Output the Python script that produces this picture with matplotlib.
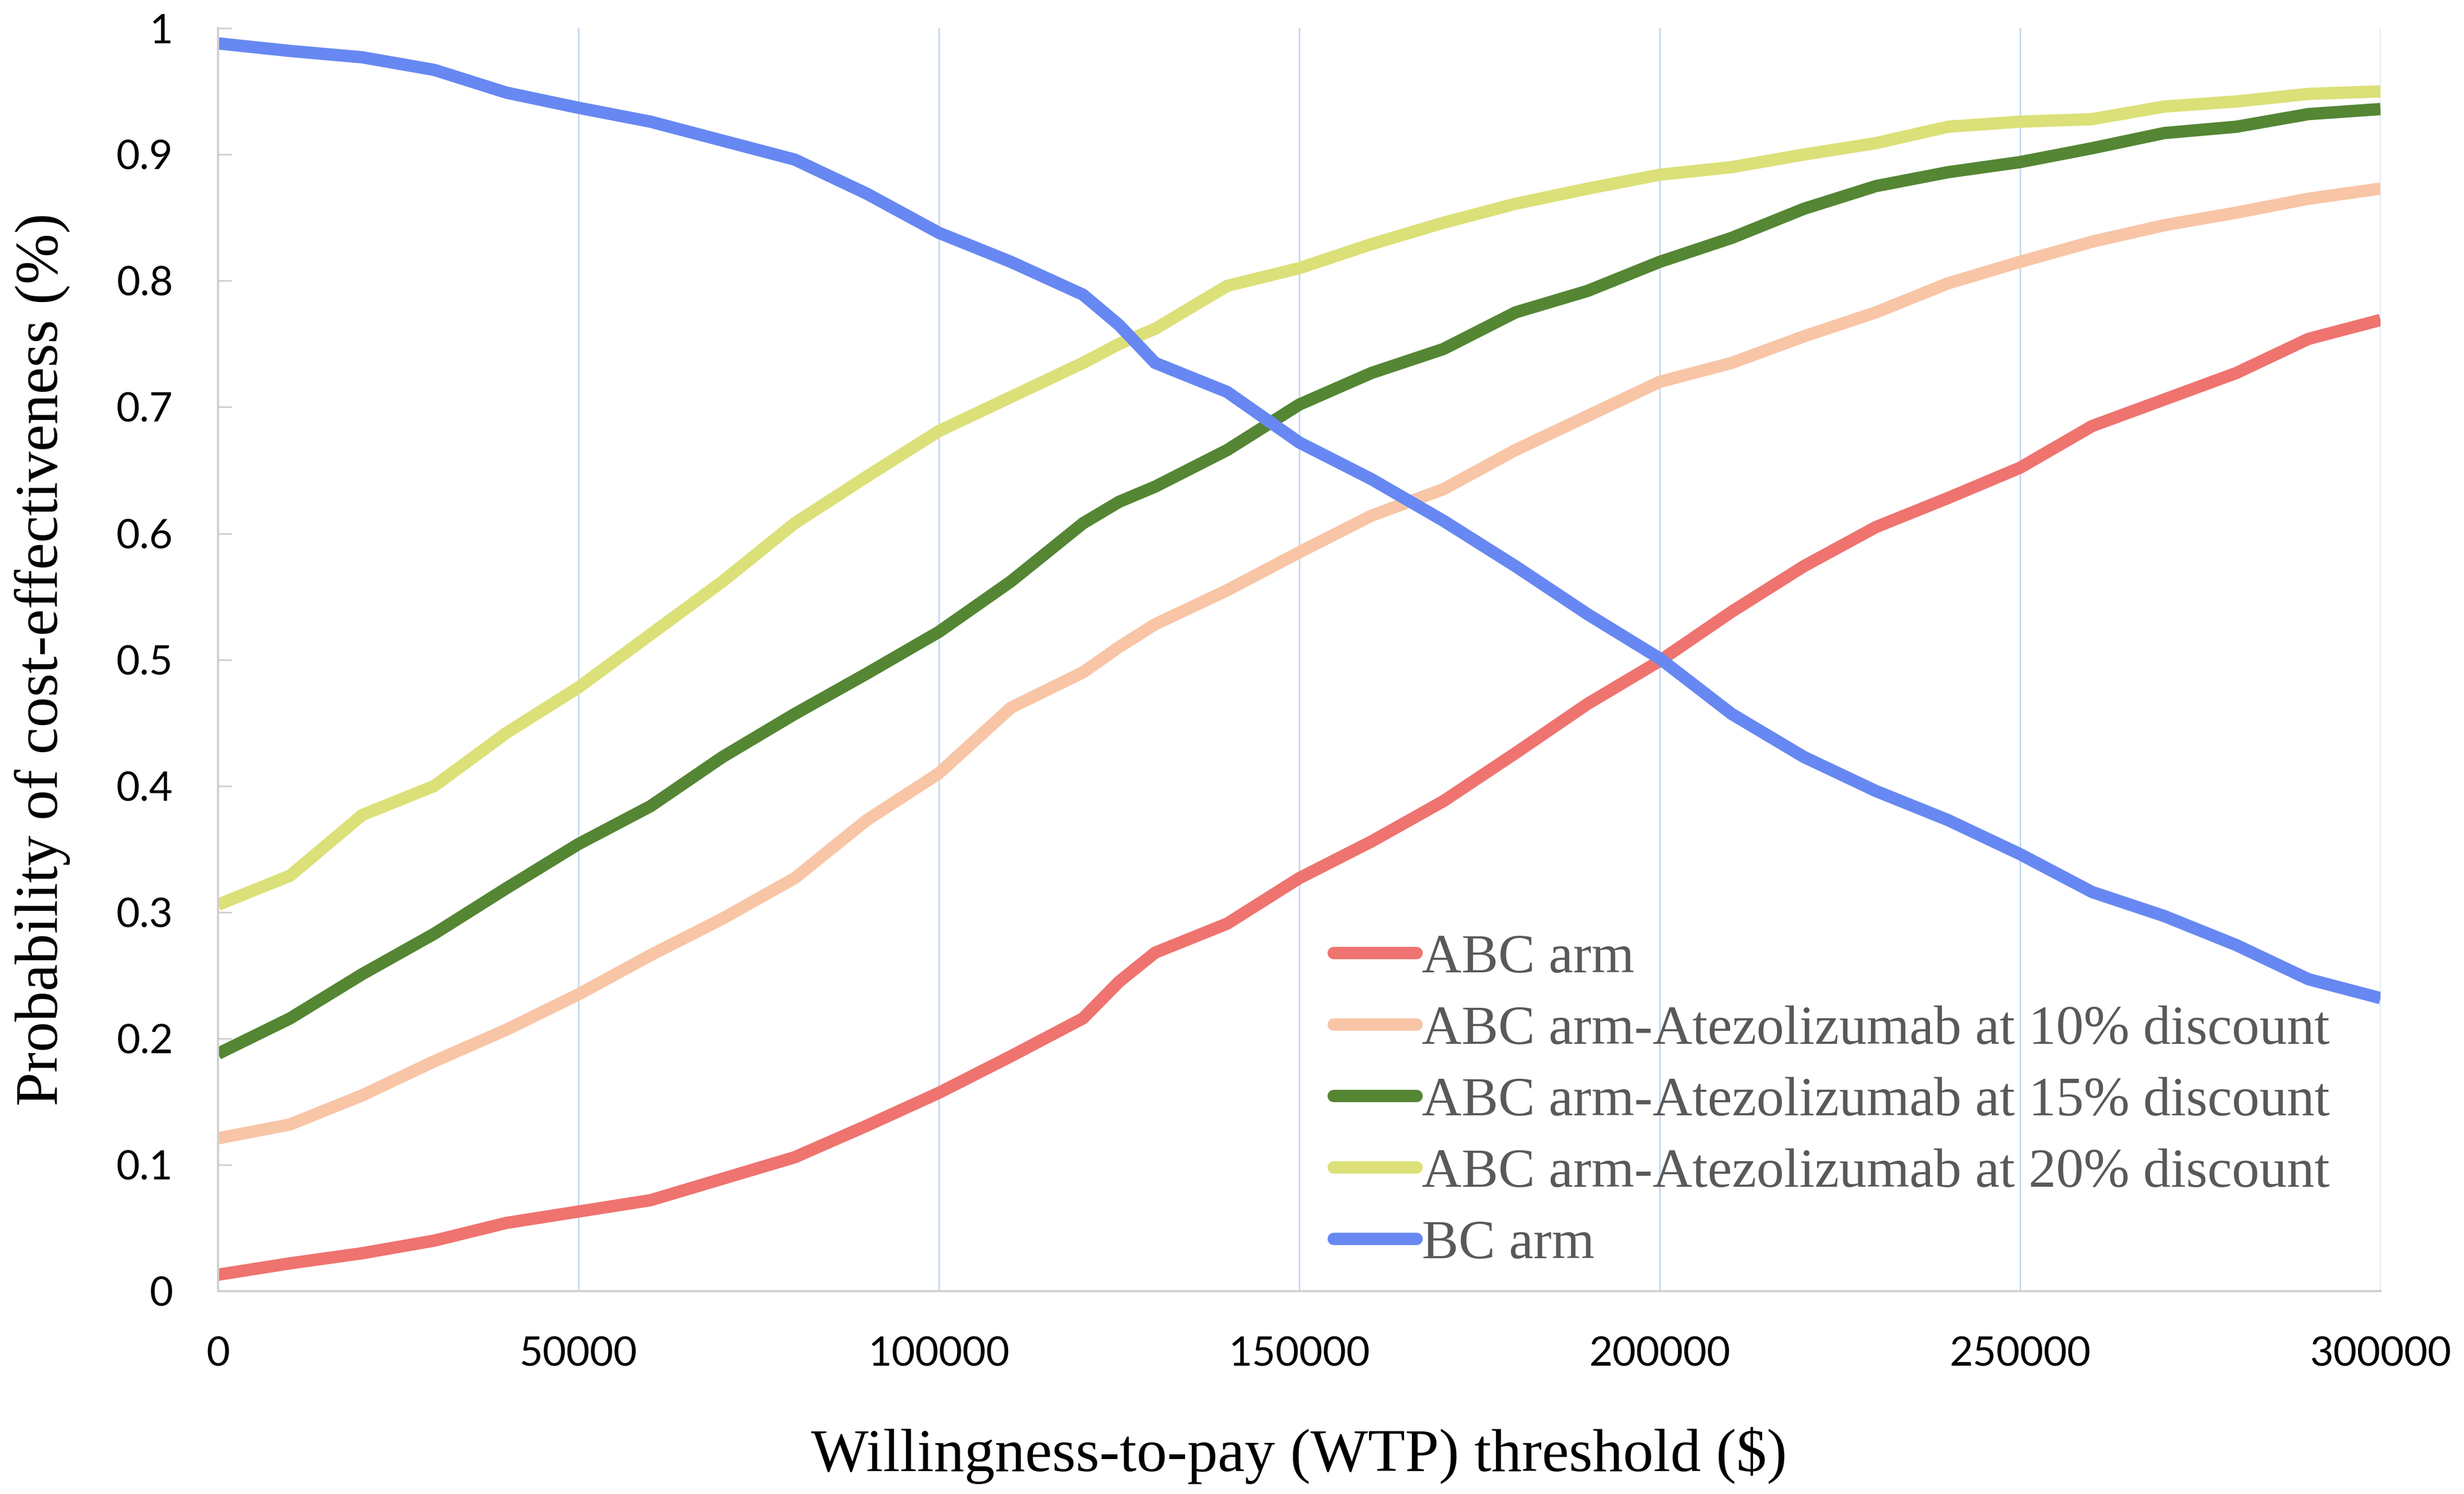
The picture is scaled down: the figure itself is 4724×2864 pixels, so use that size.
import matplotlib
matplotlib.use("Agg")
import matplotlib.pyplot as plt

# willingness-to-pay thresholds ($)
wtp = [0, 10000, 20000, 30000, 40000, 50000, 60000, 70000, 80000, 90000,
       100000, 110000, 120000, 125000, 130000, 140000, 150000, 160000, 170000,
       180000, 190000, 200000, 210000, 220000, 230000, 240000, 250000, 260000,
       270000, 280000, 290000, 300000]

abc_arm = [0.013, 0.022, 0.030, 0.040, 0.054, 0.063, 0.072, 0.089, 0.106, 0.131,
           0.157, 0.186, 0.216, 0.245, 0.268, 0.291, 0.327, 0.356, 0.388,
           0.426, 0.465, 0.499, 0.538, 0.574, 0.605, 0.628, 0.652, 0.685,
           0.706, 0.727, 0.754, 0.769]
abc_10 = [0.121, 0.132, 0.155, 0.182, 0.207, 0.235, 0.266, 0.295, 0.327, 0.373,
          0.410, 0.462, 0.490, 0.510, 0.528, 0.555, 0.585, 0.614, 0.635,
          0.666, 0.693, 0.720, 0.735, 0.756, 0.775, 0.798, 0.815, 0.831,
          0.844, 0.854, 0.865, 0.873]
abc_15 = [0.188, 0.216, 0.251, 0.283, 0.319, 0.354, 0.384, 0.423, 0.457, 0.489,
          0.522, 0.562, 0.608, 0.625, 0.637, 0.666, 0.702, 0.727, 0.746,
          0.775, 0.792, 0.815, 0.834, 0.857, 0.875, 0.886, 0.894, 0.905,
          0.917, 0.922, 0.932, 0.936]
abc_20 = [0.306, 0.329, 0.377, 0.400, 0.442, 0.478, 0.520, 0.562, 0.608, 0.645,
          0.681, 0.708, 0.735, 0.750, 0.762, 0.796, 0.810, 0.829, 0.846,
          0.861, 0.873, 0.884, 0.890, 0.900, 0.909, 0.922, 0.926, 0.928,
          0.938, 0.942, 0.948, 0.950]
bc_arm = [0.988, 0.982, 0.977, 0.967, 0.949, 0.937, 0.926, 0.911, 0.896, 0.869,
          0.838, 0.815, 0.789, 0.765, 0.735, 0.712, 0.672, 0.643, 0.610,
          0.574, 0.536, 0.501, 0.457, 0.423, 0.396, 0.373, 0.346, 0.316,
          0.297, 0.274, 0.247, 0.232]

series_names = ["ABC arm",
                "ABC arm-Atezolizumab at 10% discount",
                "ABC arm-Atezolizumab at 15% discount",
                "ABC arm-Atezolizumab at 20% discount",
                "BC arm"]

x_ticks = [0, 50000, 100000, 150000, 200000, 250000, 300000]
x_tick_labels = ["0", "50000", "100000", "150000", "200000", "250000", "300000"]
y_ticks = [0, 0.1, 0.2, 0.3, 0.4, 0.5, 0.6, 0.7, 0.8, 0.9, 1.0]
y_tick_labels = ["0", "0.1", "0.2", "0.3", "0.4", "0.5", "0.6", "0.7", "0.8", "0.9", "1"]

colors = ["#EF736F", "#F8C5A6", "#548634", "#DCE078", "#6788F2"]

fig = plt.figure(figsize=(23.62, 14.32), dpi=200)
ax = fig.add_axes([0.0885, 0.1358, 0.8776, 0.8453])

for ys, name, c in zip([abc_arm, abc_10, abc_15, abc_20, bc_arm], series_names, colors):
    ax.plot(wtp, ys, color=c, lw=8.5, label=name, solid_capstyle="butt",
            solid_joinstyle="round")

ax.set_xlim(0, 300000)
ax.set_ylim(0, 1)
ax.set_xticks(x_ticks)
ax.set_xticklabels(x_tick_labels)
ax.set_yticks(y_ticks)
ax.set_yticklabels(y_tick_labels)

## grid: vertical light blue lines only
ax.grid(axis="x", color="#C6D9EE", lw=1.1)
ax.set_axisbelow(True)

for s in ["top", "right"]:
    ax.spines[s].set_visible(False)
for s in ["left", "bottom"]:
    ax.spines[s].set_color("#D0D0D0")
    ax.spines[s].set_linewidth(1.5)

ax.tick_params(axis="y", direction="in", length=9.4, width=1.1, color="#D0D0D0",
               pad=31, labelsize=28)
ax.tick_params(axis="x", length=0, pad=31, labelsize=28)
for lab in ax.get_xticklabels() + ax.get_yticklabels():
    lab.set_fontfamily("Lato")

ax.set_xlabel("Willingness-to-pay (WTP) threshold ($)", fontfamily="Liberation Serif",
              fontsize=42, va="center")
ax.set_ylabel("Probability of cost-effectiveness (%)", fontfamily="Liberation Serif",
              fontsize=42, va="center")
ax.xaxis.set_label_coords(0.5, -0.130)
ax.yaxis.set_label_coords(-0.0813, 0.5)

leg = ax.legend(loc="upper left", bbox_to_anchor=(0.516, 0.283), frameon=False,
                prop={"family": "Liberation Serif", "size": 38},
                handlelength=1.5, handletextpad=0.1, labelspacing=0.38,
                borderpad=0, borderaxespad=0)
for t in leg.get_texts():
    t.set_color("#595959")
for h in leg.get_lines():
    h.set_solid_capstyle("round")

fig.savefig("out.png", dpi=200)
